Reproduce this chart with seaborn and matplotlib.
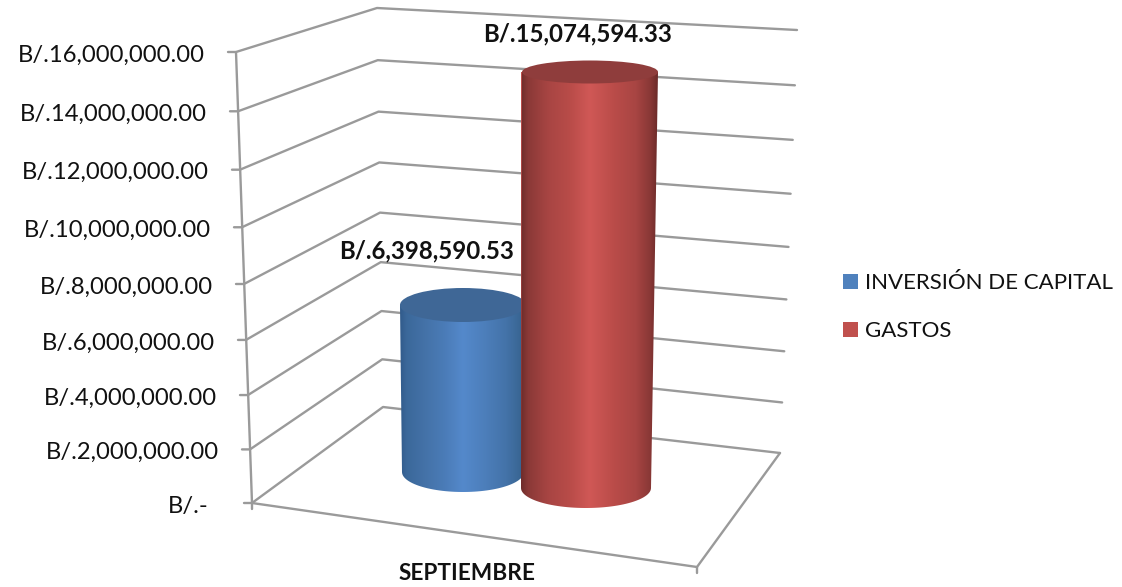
import numpy as np
import pandas as pd
import seaborn as sns
import matplotlib
matplotlib.use("Agg")
import matplotlib.pyplot as plt
from matplotlib.colors import LinearSegmentedColormap
from matplotlib.patches import Ellipse, PathPatch, Patch
from matplotlib.path import Path
from matplotlib.transforms import Affine2D

# ---------- data ----------
series_names = ["INVERSIÓN DE CAPITAL", "GASTOS"]
series_values = [6398590.53, 15074594.33]
value_labels = ["B/.6,398,590.53", "B/.15,074,594.33"]
category = "SEPTIEMBRE"
tick_values = [0, 2e6, 4e6, 6e6, 8e6, 10e6, 12e6, 14e6, 16e6]
tick_labels = ["B/.-", "B/.2,000,000.00", "B/.4,000,000.00", "B/.6,000,000.00",
               "B/.8,000,000.00", "B/.10,000,000.00", "B/.12,000,000.00",
               "B/.14,000,000.00", "B/.16,000,000.00"]
base_colors = ["#4f81bd", "#c0504d"]

sns.set_theme(style="white")
plt.rcParams["font.family"] = ["Lato", "DejaVu Sans"]

W, H = 1122, 587
fig = plt.figure(figsize=(W / 100, H / 100), dpi=100, facecolor="white")
ax = fig.add_axes([0, 0, 1, 1])

df = pd.DataFrame({"serie": series_names, "valor": series_values})
sns.barplot(data=df, x="serie", y="valor", hue="serie", palette=base_colors,
            width=1.0, legend=False, ax=ax, saturation=1, zorder=3)
bars = [p for p in ax.patches if p.get_height() > 0]

# ---------- 3-D look: value -> picture position ----------
VMAX = max(tick_values)
GRID = "#9a9a9a"


def persp(value, y0, y1, c):
    t = value / VMAX
    a = (y1 - y0) * (1 + c)
    return y0 + a * t / (1 + c * t)


def front(value):
    t = value / VMAX
    return 252 + (236 - 252) * t, persp(value, 503, 52, -0.056)


def back_left(value):
    t = value / VMAX
    return 383 + (377 - 383) * t, persp(value, 407, 8, -0.05)


def back_right(value):
    t = value / VMAX
    return 780 + (797 - 780) * t, persp(value, 453, 30, -0.05)


line = dict(color=GRID, lw=1.7, solid_capstyle="round", zorder=1)
for v, lab in zip(tick_values, tick_labels):
    fx, fy = front(v)
    bx, by = back_left(v)
    rx, ry = back_right(v)
    ax.plot([fx - 8, fx, bx, rx], [fy, fy, by, ry], **line)
    ax.text(fx - (43 if v == 0 else 31), fy + 3, lab, ha="right", va="center",
            fontsize=17.1, color="#111111")
x0, y0 = front(0)
x1, y1 = front(VMAX)
ax.plot([x0, x1], [y0, y1], **line)
ax.plot([x0, 697, 780], [y0, 567, 453], **line)
ax.plot([x0, x0], [y0, y0 + 6], **line)
ax.plot([697, 697], [567, 573], **line)

# ---------- cylinders ----------
geom = [
    dict(tc=463, tr=63, bc=463, br=61, base=472, top_ref=305, try_=17, bry=20, z=3),
    dict(tc=590, tr=68, bc=586, br=65, base=488, top_ref=72, try_=11.5, bry=20, z=5),
]
pos = [0, 0.05, 0.2, 0.36, 0.5, 0.68, 0.84, 0.95, 1]
stops = [
    ["#315b8b", "#3b689a", "#4472a8", "#4b7cb8", "#5489cb", "#4c7eba", "#4473a9", "#3a6795", "#305885"],
    ["#6e2c2b", "#8a3937", "#a84543", "#b94c49", "#d05856", "#ba4c49", "#a84543", "#873735", "#6b2a29"],
]
top_colors = ["#3f6796", "#8f3d3c"]
for bar, g, st, tcol, val in zip(bars, geom, stops, top_colors, series_values):
    ppu = (g["base"] - g["top_ref"]) / val
    top = g["base"] - val * ppu
    cx0 = bar.get_x() + bar.get_width() / 2
    tf = (Affine2D().translate(-cx0, 0).scale(2 * g["br"] / bar.get_width(), -ppu)
          .translate(g["bc"], g["base"]) + ax.transData)
    bar.set_transform(tf)
    bar.set_zorder(g["z"])
    bar.set_edgecolor("none")

    n = 60
    th = np.linspace(np.pi, 0, n)
    bx = g["bc"] + g["br"] * np.cos(th)
    by = g["base"] + g["bry"] * np.sin(th)
    verts = np.vstack([[g["tc"] - g["tr"], top], np.c_[bx, by], [g["tc"] + g["tr"], top]])
    verts = np.vstack([verts, verts[0]])
    clip = PathPatch(Path(verts), fc="none", ec="none", zorder=g["z"])
    ax.add_patch(clip)
    cmap = LinearSegmentedColormap.from_list("c", list(zip(pos, st)))
    left = min(g["tc"] - g["tr"], g["bc"] - g["br"])
    right = max(g["tc"] + g["tr"], g["bc"] + g["br"])
    im = ax.imshow(np.linspace(0, 1, 256)[None, :], cmap=cmap, aspect="auto",
                   extent=[left, right, g["base"] + g["bry"], top], zorder=g["z"] + 0.1)
    im.set_clip_path(clip)
    ax.add_patch(Ellipse((g["tc"], top), 2 * g["tr"], 2 * g["try_"], fc=tcol, ec="none",
                         zorder=g["z"] + 0.2))

# ---------- text ----------
ax.text(578, 34, value_labels[1], ha="center", va="center", fontsize=17.3,
        fontweight="bold", color="#111111", zorder=8)
ax.text(427, 251, value_labels[0], ha="center", va="center", fontsize=17.3,
        fontweight="bold", color="#111111", zorder=8)
ax.text(467, 574, category, ha="center", va="center", fontsize=16.3,
        fontweight="bold", color="#111111", zorder=8)

ax.set_xlim(0, W)
ax.set_ylim(H, 0)
ax.set_axis_off()

handles = [Patch(fc=c, ec="none") for c in base_colors]
ax.legend(handles, series_names, loc="upper left",
          bbox_to_anchor=(843 / W, 1 - 273 / H), bbox_transform=fig.transFigure,
          frameon=False, fontsize=16, handlelength=0.68, handleheight=0.68,
          handletextpad=0.33, labelspacing=1.26, borderaxespad=0, borderpad=0,
          labelcolor="#111111")

fig.savefig("out.png", dpi=100, facecolor="white")
